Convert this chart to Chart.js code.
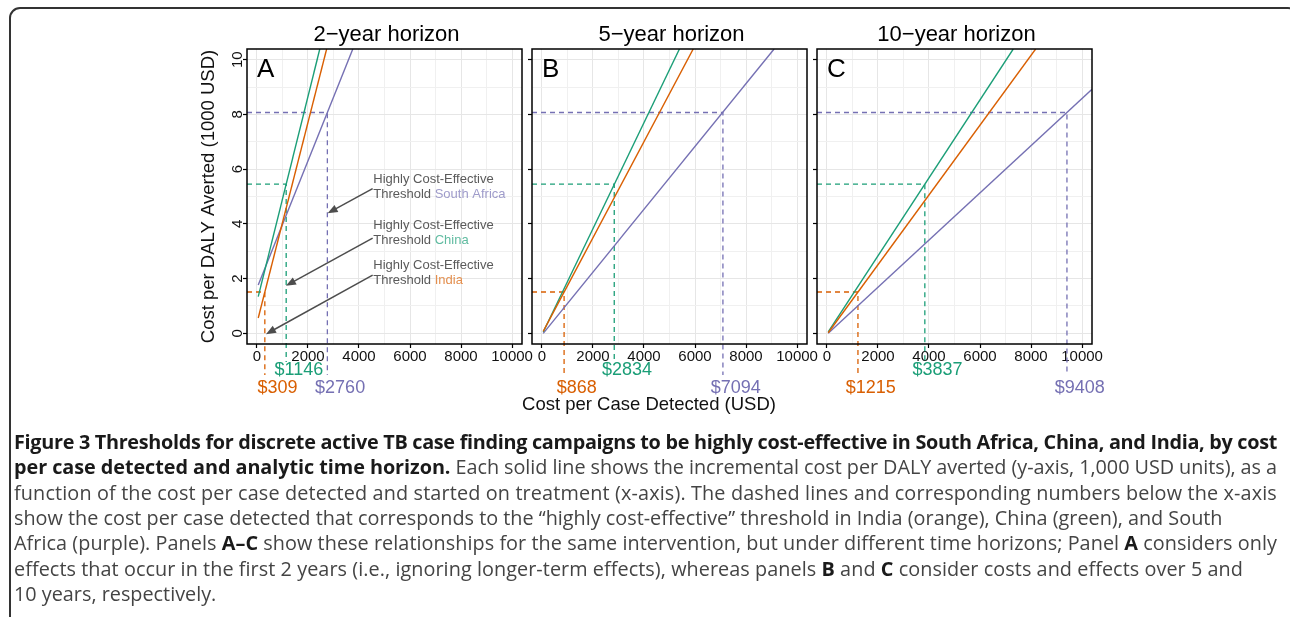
<!DOCTYPE html>
<html>
<head>
<meta charset="utf-8">
<script src="https://cdn.jsdelivr.net/npm/chart.js@4.4.1/dist/chart.umd.min.js"></script>
<style>
  body { margin:0; background:#fff; width:1290px; height:617px; overflow:hidden; position:relative; }
  .frame { position:absolute; left:9px; top:7px; width:1290px; height:660px; border:2px solid #333; border-radius:11px; box-sizing:border-box; }
  canvas { position:absolute; top:0; }
  .xtitle { position:absolute; left:449px; width:400px; top:393px; text-align:center; font:18.5px "Liberation Sans", Arial, sans-serif; color:#111; line-height:22px; }
  .cl { position:absolute; left:14px; white-space:nowrap; font-family:"Open Sans", sans-serif; color:#444; line-height:24px; }
  .cl b { color:#1a1a1a; font-weight:700; }
</style>
</head>
<body>
<div class="frame"></div>
<canvas id="pA" width="375" height="430" style="left:187px"></canvas>
<canvas id="pB" width="375" height="430" style="left:472px"></canvas>
<canvas id="pC" width="375" height="430" style="left:757px"></canvas>
<div class="xtitle">Cost per Case Detected (USD)</div>

<div class="cl" data-w="1263"><b>Figure 3 Thresholds for discrete active TB case finding campaigns to be highly cost-effective in South Africa, China, and India, by cost</b></div>
<div class="cl" data-w="1263"><b>per case detected and analytic time horizon.</b> Each solid line shows the incremental cost per DALY averted (y-axis, 1,000 USD units), as a</div>
<div class="cl" data-w="1263">function of the cost per case detected and started on treatment (x-axis). The dashed lines and corresponding numbers below the x-axis</div>
<div class="cl">show the cost per case detected that corresponds to the “highly cost-effective” threshold in India (orange), China (green), and South</div>
<div class="cl" data-w="1263">Africa (purple). Panels <b>A–C</b> show these relationships for the same intervention, but under different time horizons; Panel <b>A</b> considers only</div>
<div class="cl" data-w="1229">effects that occur in the first 2 years (i.e., ignoring longer-term effects), whereas panels <b>B</b> and <b>C</b> consider costs and effects over 5 and</div>
<div class="cl">10 years, respectively.</div>

<script>
// ---- data ----
const countries = ['India', 'China', 'South Africa'];
const horizons = ['2\u2212year horizon', '5\u2212year horizon', '10\u2212year horizon'];
const panelLetters = ['A', 'B', 'C'];

// highly cost-effective threshold, cost per DALY averted (1000 USD): India, China, South Africa
const thresholdDaly = [1.51, 5.45, 8.07];
// cost per case detected at which each threshold is hit, per panel
const thresholdCostA = [309, 1146, 2760];
const thresholdCostB = [868, 2834, 7094];
const thresholdCostC = [1215, 3837, 9408];

// straight lines: [start, end] cost per case detected / cost per DALY averted
const lineCostA = [[50, 2732], [50, 2463], [50, 3758]];
const lineDalyA = [[0.56, 10.39], [1.34, 10.39], [1.77, 10.39]];
const lineCostB = [[50, 5930], [50, 5390], [50, 9100]];
const lineDalyB = [[0.07, 10.39], [0.05, 10.39], [0, 10.39]];
const lineCostC = [[50, 8181], [50, 7303], [50, 10390]];
const lineDalyC = [[0.02, 10.39], [0.05, 10.39], [0, 8.92]];

// axis ticks
const xTickValues = [0, 1000, 2000, 3000, 4000, 5000, 6000, 7000, 8000, 9000, 10000];
const xLabelValues = [0, 2000, 4000, 6000, 8000, 10000];
const yTickValues = [0, 1, 2, 3, 4, 5, 6, 7, 8, 9, 10];
const yLabelValues = [0, 2, 4, 6, 8, 10];

// panel A call-outs (India, China, South Africa): arrow tail / head and text rows
const arrowFrom = [[4535, 2.13], [4535, 3.48], [4535, 5.29]];
const arrowTo = [[353, -0.03], [1137, 1.74], [2771, 4.39]];
const noteX = 4560;
const noteY = [[2.47, 1.92], [3.94, 3.39], [5.63, 5.09]];

// ---- styling ----
const lineColors = ['#D95F02', '#1B9E77', '#7570B3'];
const noteColors = ['#E48F4E', '#5FBBA0', '#9E9BCA'];
const FONT = '"Liberation Sans", Arial, sans-serif';

const panels = [
  { id: 'pA', cost: lineCostA, daly: lineDalyA, thr: thresholdCostA },
  { id: 'pB', cost: lineCostB, daly: lineDalyB, thr: thresholdCostB },
  { id: 'pC', cost: lineCostC, daly: lineDalyC, thr: thresholdCostC },
];

function rotText(ctx, text, x, y) {
  ctx.save();
  ctx.translate(x, y);
  ctx.rotate(-Math.PI / 2);
  ctx.fillText(text, 0, 0);
  ctx.restore();
}

const decor = {
  id: 'decor',
  beforeDatasetsDraw(chart, args, opts) {
    const p = panels[opts.idx];
    const ctx = chart.ctx, a = chart.chartArea;
    const sx = chart.scales.x, sy = chart.scales.y;
    ctx.save();
    ctx.lineWidth = 1.3;
    ctx.setLineDash([5, 4]);
    for (let i = 0; i < 3; i++) {
      const xx = sx.getPixelForValue(p.thr[i]);
      const yy = sy.getPixelForValue(thresholdDaly[i]);
      ctx.strokeStyle = lineColors[i];
      ctx.beginPath();
      ctx.moveTo(a.left, yy);
      ctx.lineTo(xx, yy);
      ctx.lineTo(xx, a.bottom + (i === 1 ? 18 : 31));
      ctx.stroke();
    }
    ctx.restore();
  },
  afterDraw(chart, args, opts) {
    const idx = opts.idx, p = panels[idx];
    const ctx = chart.ctx, a = chart.chartArea;
    const sx = chart.scales.x, sy = chart.scales.y;
    ctx.save();
    // panel box
    ctx.strokeStyle = '#000';
    ctx.lineWidth = 1.5;
    ctx.strokeRect(a.left, a.top, a.right - a.left, a.bottom - a.top);

    // title + letter
    ctx.fillStyle = '#000';
    ctx.textAlign = 'center';
    ctx.textBaseline = 'alphabetic';
    ctx.font = '22px ' + FONT;
    ctx.fillText(horizons[idx], (a.left + a.right) / 2 + 2, a.top - 8);
    ctx.textAlign = 'left';
    ctx.font = '26px ' + FONT;
    ctx.fillText(panelLetters[idx], a.left + 10, a.top + 28);

    // threshold labels under the axis
    ctx.font = '18px ' + FONT;
    ctx.textAlign = 'center';
    ctx.textBaseline = 'middle';
    for (let i = 0; i < 3; i++) {
      ctx.fillStyle = lineColors[i];
      ctx.fillText('$' + p.thr[i], sx.getPixelForValue(p.thr[i] + 500), a.bottom + (i === 1 ? 26 : 44));
    }

    if (idx === 0) {
      // y tick labels (rotated) and axis title
      ctx.fillStyle = '#111';
      ctx.font = '15px ' + FONT;
      yLabelValues.forEach(v => rotText(ctx, String(v), a.left - 9, sy.getPixelForValue(v)));
      ctx.font = '18.5px ' + FONT;
      rotText(ctx, 'Cost per DALY Averted (1000 USD)', a.left - 38, (a.top + a.bottom) / 2);

      // call-outs
      for (let i = 0; i < 3; i++) {
        const x0 = sx.getPixelForValue(arrowFrom[i][0]), y0 = sy.getPixelForValue(arrowFrom[i][1]);
        const x1 = sx.getPixelForValue(arrowTo[i][0]), y1 = sy.getPixelForValue(arrowTo[i][1]);
        const ang = Math.atan2(y1 - y0, x1 - x0);
        const hl = 10, hw = 4;
        ctx.strokeStyle = '#4D4D4D';
        ctx.fillStyle = '#4D4D4D';
        ctx.lineWidth = 1.5;
        ctx.beginPath();
        ctx.moveTo(x0, y0);
        ctx.lineTo(x1 - Math.cos(ang) * hl * 0.8, y1 - Math.sin(ang) * hl * 0.8);
        ctx.stroke();
        ctx.beginPath();
        ctx.moveTo(x1, y1);
        ctx.lineTo(x1 - Math.cos(ang) * hl - Math.sin(ang) * hw, y1 - Math.sin(ang) * hl + Math.cos(ang) * hw);
        ctx.lineTo(x1 - Math.cos(ang) * hl + Math.sin(ang) * hw, y1 - Math.sin(ang) * hl - Math.cos(ang) * hw);
        ctx.closePath();
        ctx.fill();

        const tx = sx.getPixelForValue(noteX);
        ctx.font = '13px ' + FONT;
        ctx.textAlign = 'left';
        ctx.textBaseline = 'middle';
        ctx.fillStyle = '#5a5a5a';
        ctx.fillText('Highly Cost-Effective', tx, sy.getPixelForValue(noteY[i][0]));
        const y2 = sy.getPixelForValue(noteY[i][1]);
        ctx.fillText('Threshold ', tx, y2);
        const w = ctx.measureText('Threshold ').width;
        ctx.fillStyle = noteColors[i];
        ctx.fillText(countries[i], tx + w, y2);
      }
    }
    ctx.restore();
  }
};

panels.forEach((p, idx) => {
  const datasets = countries.map((c, i) => ({
    label: c,
    data: p.cost[i].map((x, k) => ({ x: x, y: p.daly[i][k] })),
    borderColor: lineColors[i],
    borderWidth: 1.4,
    pointRadius: 0,
    showLine: true,
    fill: false,
  }));
  new Chart(document.getElementById(p.id), {
    type: 'scatter',
    data: { datasets },
    plugins: [decor],
    options: {
      responsive: false,
      animation: false,
      devicePixelRatio: 1,
      layout: { padding: { left: 56, top: 49, right: 40, bottom: 56 } },
      plugins: { legend: { display: false }, tooltip: { enabled: false }, decor: { idx } },
      scales: {
        x: {
          type: 'linear', min: -390, max: 10390,
          afterBuildTicks: s => { s.ticks = xTickValues.map(v => ({ value: v })); },
          afterFit: s => { s.height = 30; },
          border: { display: false },
          grid: {
            color: c => xLabelValues.includes(c.tick && c.tick.value) ? '#e6e6e6' : '#f0f0f0',
            lineWidth: 1,
            tickLength: 4,
            tickColor: c => xLabelValues.includes(c.tick && c.tick.value) ? '#000' : 'rgba(0,0,0,0)',
            tickWidth: 1.2,
          },
          ticks: {
            autoSkip: false, maxRotation: 0, minRotation: 0, padding: 0,
            color: '#111', font: { family: FONT, size: 15 },
            callback: v => xLabelValues.includes(v) ? String(v) : '',
          },
        },
        y: {
          type: 'linear', min: -0.39, max: 10.39,
          afterBuildTicks: s => { s.ticks = yTickValues.map(v => ({ value: v })); },
          afterFit: s => { s.width = 4; },
          border: { display: false },
          grid: {
            color: c => yLabelValues.includes(c.tick && c.tick.value) ? '#e6e6e6' : '#f0f0f0',
            lineWidth: 1,
            tickLength: 4,
            tickColor: c => yLabelValues.includes(c.tick && c.tick.value) ? '#000' : 'rgba(0,0,0,0)',
            tickWidth: 1.2,
          },
          ticks: { display: false },
        },
      },
    },
  });
});

// caption: one font size for all lines, then a small letter-spacing nudge
// so lines with a known right edge end where they do in the figure
const capLines = Array.from(document.querySelectorAll('.cl'));
const capTop0 = 442, capStep = 25.3;
capLines.forEach((el, i) => { el.style.fontSize = '16px'; el.style.top = (capTop0 + i * capStep - 12) + 'px'; });
const full = capLines.filter(el => el.dataset.w === '1263');
const ratios = full.map(el => 1263 / el.getBoundingClientRect().width).sort((a, b) => a - b);
const fs = 16 * (ratios[1] + ratios[2]) / 2;
capLines.forEach(el => {
  el.style.fontSize = fs.toFixed(2) + 'px';
  if (!el.dataset.w) return;
  const w = el.getBoundingClientRect().width;
  const n = el.textContent.length;
  el.style.letterSpacing = ((+el.dataset.w - w) / n).toFixed(3) + 'px';
});
</script>
</body>
</html>
